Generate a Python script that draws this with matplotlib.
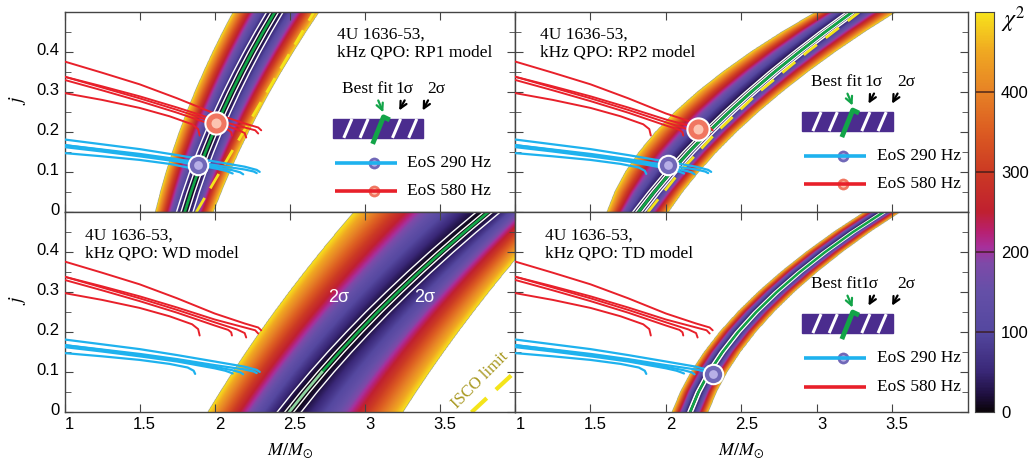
import numpy as np
import matplotlib
matplotlib.use('Agg')
import matplotlib.pyplot as plt
from matplotlib.colors import LinearSegmentedColormap
from matplotlib.patches import Rectangle
import matplotlib.transforms as mtransforms

plt.rcParams['mathtext.fontset'] = 'stix'
plt.rcParams['font.family'] = ['Liberation Sans', 'DejaVu Sans']
SERIF = ['Liberation Serif', 'DejaVu Serif']

# ---------------- data ----------------
j_pts = [0.00, 0.05, 0.10, 0.15, 0.20, 0.25, 0.30, 0.35, 0.40, 0.45, 0.50]

# RP1 model: best fit and outer (chi2 = 500) edges, M/Msun
rp1_best  = [1.800, 1.842, 1.888, 1.938, 1.992, 2.050, 2.112, 2.178, 2.248, 2.322, 2.400]
rp1_left  = [1.600, 1.634, 1.672, 1.714, 1.760, 1.810, 1.864, 1.922, 1.984, 2.050, 2.120]
rp1_right = [1.987, 2.040, 2.096, 2.157, 2.222, 2.291, 2.363, 2.440, 2.521, 2.605, 2.694]
# RP2 model
rp2_best  = [1.818, 1.921, 2.032, 2.151, 2.280, 2.417, 2.563, 2.717, 2.881, 3.052, 3.233]
rp2_left  = [1.608, 1.660, 1.731, 1.822, 1.932, 2.061, 2.210, 2.379, 2.566, 2.773, 3.000]
rp2_right = [2.017, 2.111, 2.218, 2.337, 2.469, 2.614, 2.772, 2.942, 3.125, 3.321, 3.531]
# WD model
wd_best  = [2.495, 2.601, 2.713, 2.831, 2.955, 3.084, 3.220, 3.361, 3.508, 3.661, 3.820]
wd_left  = [1.950, 2.032, 2.117, 2.206, 2.298, 2.394, 2.493, 2.596, 2.702, 2.812, 2.925]
wd_right = [3.250, 3.337, 3.427, 3.521, 3.618, 3.719, 3.823, 3.931, 4.042, 4.157, 4.275]
# TD model
td_best  = [2.160, 2.215, 2.286, 2.374, 2.477, 2.597, 2.733, 2.885, 3.053, 3.237, 3.440]
td_left  = [2.040, 2.095, 2.166, 2.254, 2.357, 2.477, 2.613, 2.765, 2.933, 3.117, 3.320]
td_right = [2.280, 2.335, 2.406, 2.494, 2.597, 2.717, 2.853, 3.005, 3.173, 3.357, 3.560]

# sigma-contour offsets from the best fit (M/Msun): 1 sigma, 2 sigma
rp1_sig = [0.025, 0.055]
rp2_sig = [0.020, 0.040]
wd_sig  = [0.030, 0.080]
td_sig  = [0.015, 0.022]

# yellow dashed lines
rp1_dash_j = [0.0, 0.5]
rp1_dash_M = [1.877, 2.660]
rp2_dash_j = [0.0, 0.1, 0.2, 0.3, 0.4, 0.5]
rp2_dash_M = [1.880, 2.090, 2.335, 2.615, 2.935, 3.280]
isco_j = [0.0, 0.0975]
isco_M = [3.710, 3.990]

# EoS sequences, 580 Hz (red)
red_M = [
    [1.00, 1.25, 1.50, 1.75, 2.00, 2.20, 2.29, 2.31],
    [1.00, 1.25, 1.50, 1.75, 2.00, 2.20, 2.27, 2.29],
    [1.00, 1.25, 1.50, 1.75, 2.00, 2.15, 2.20, 2.21],
    [1.00, 1.25, 1.50, 1.75, 2.00, 2.09, 2.11, 2.115],
    [1.00, 1.25, 1.50, 1.70, 1.85, 1.89, 1.90],
]
red_j = [
    [0.377, 0.349, 0.320, 0.285, 0.247, 0.222, 0.212, 0.205],
    [0.339, 0.315, 0.290, 0.262, 0.232, 0.212, 0.205, 0.197],
    [0.339, 0.312, 0.285, 0.256, 0.225, 0.207, 0.198, 0.187],
    [0.331, 0.305, 0.278, 0.249, 0.217, 0.206, 0.200, 0.192],
    [0.298, 0.281, 0.261, 0.240, 0.220, 0.208, 0.192],
]
# EoS sequences, 290 Hz (blue)
blue_M = [
    [1.00, 1.25, 1.50, 1.75, 2.00, 2.20, 2.28, 2.30],
    [1.00, 1.25, 1.50, 1.75, 2.00, 2.20, 2.26, 2.28],
    [1.00, 1.25, 1.50, 1.75, 2.00, 2.12, 2.17, 2.19],
    [1.00, 1.25, 1.50, 1.75, 2.00, 2.07, 2.10, 2.12],
    [1.00, 1.25, 1.50, 1.70, 1.82, 1.86, 1.87],
]
blue_j = [
    [0.182, 0.170, 0.158, 0.143, 0.127, 0.114, 0.106, 0.101],
    [0.168, 0.157, 0.146, 0.133, 0.118, 0.107, 0.102, 0.098],
    [0.168, 0.156, 0.143, 0.130, 0.114, 0.105, 0.100, 0.095],
    [0.163, 0.152, 0.140, 0.127, 0.110, 0.104, 0.100, 0.097],
    [0.148, 0.140, 0.131, 0.121, 0.112, 0.104, 0.096],
]

# intersection markers (M, j)
rp1_blue_pt = (1.892, 0.117)
rp1_red_pt = (2.009, 0.2225)
rp2_blue_pt = (2.017, 0.117)
rp2_red_pt = (2.211, 0.2075)
td_blue_pt = (2.309, 0.096)

x_ticks = [1, 1.5, 2, 2.5, 3, 3.5]
x_labels = ['1', '1.5', '2', '2.5', '3', '3.5']
y_ticks = [0, 0.1, 0.2, 0.3, 0.4]
y_labels = ['0', '0.1', '0.2', '0.3', '0.4']
cb_ticks = [0, 100, 200, 300, 400]

# ---------------- colours ----------------
cm_vals = [0, 20, 50, 100, 150, 185, 205, 225, 250, 300, 350, 400, 450, 500]
cm_cols = ['#0c060c', '#1f1040', '#3a2878', '#5548a0', '#6550a8', '#7e4aa8',
           '#a8309c', '#b82070', '#c02030', '#cc3a24', '#dc5c22', '#e78226',
           '#f0a822', '#f8e41c']
cmap = LinearSegmentedColormap.from_list(
    'chi', list(zip([v / 500 for v in cm_vals], cm_cols)))
RED = '#e8202a'
BLUE = '#1eb2ee'
GREEN = '#12a448'
YEL = '#f4e41a'

# ---------------- figure ----------------
W, H = 1032, 465
fig = plt.figure(figsize=(W / 100, H / 100), dpi=100)


def fax(x0, y0, x1, y1):
    return fig.add_axes([x0 / W, 1 - y1 / H, (x1 - x0) / W, (y1 - y0) / H])


ax_rp1 = fax(64.5, 12.3, 515, 212.3)
ax_rp2 = fax(515, 12.3, 967.7, 212.3)
ax_wd = fax(64.5, 212.3, 515, 412.3)
ax_td = fax(515, 212.3, 967.7, 412.3)
cax = fax(975, 12.3, 994, 412.3)

Mg = np.linspace(1, 4, 1100)
Jg = np.linspace(0, 0.5, 420)
MM, JJ = np.meshgrid(Mg, Jg)


def band(ax, best, left, right, p=1.4):
    c = np.interp(JJ, j_pts, best)
    l = np.interp(JJ, j_pts, left)
    r = np.interp(JJ, j_pts, right)
    d = MM - c
    D = np.where(d < 0, c - l, r - c)
    chi = 500 * (np.abs(d) / D) ** p
    chi = np.ma.masked_where(chi > 500, chi)
    ax.imshow(chi, extent=[1, 4, 0, 0.5], origin='lower', aspect='auto',
              cmap=cmap, vmin=0, vmax=500, interpolation='bilinear', zorder=0)


def sig_lines(ax, best, sig, lw=1.0):
    b = np.array(best)
    for s in sig:
        for sgn in (-1, 1):
            ax.plot(b + sgn * s, j_pts, color='white', lw=lw, zorder=2)


def eos(ax):
    for Ms, js in zip(red_M, red_j):
        ax.plot(Ms, js, color=RED, lw=1.4, zorder=3, solid_capstyle='round')
    for Ms, js in zip(blue_M, blue_j):
        ax.plot(Ms, js, color=BLUE, lw=1.6, zorder=3, solid_capstyle='round')


def dot(ax, pt, kind, ms=14, trans=None):
    kw = {}
    if trans is not None:
        kw['transform'] = trans
    if kind == 'blue':
        face, hl = '#7068b8', '#c4bef0'
    else:
        face, hl = '#f07660', '#ffd2c0'
    ax.plot([pt[0]], [pt[1]], 'o', ms=ms, mfc=face, mec='white', mew=1.5,
            zorder=6, **kw)
    ax.plot([pt[0]], [pt[1]], 'o', ms=ms * 0.45, mfc=hl, mec='none',
            alpha=0.85, zorder=7, **kw)


def key(ax, bx, by, labels, label_x, red_dot=True):
    T = ax.transAxes
    w, h = 0.2, 0.095
    ax.add_patch(Rectangle((bx, by), w, h, transform=T, color='#4b2c8e',
                           zorder=8))
    sl = 0.09 * w
    for f in [0.12, 0.30, 0.66, 0.84]:
        ax.plot([bx + f * w, bx + f * w + sl], [by, by + h], transform=T,
                color='white', lw=2.2, zorder=9, solid_capstyle='butt')
    gx = bx + 0.47 * w
    ax.plot([gx - 0.006, gx + sl, gx + sl + 0.014],
            [by - 0.03, by + h + 0.01, by + h - 0.005], transform=T,
            color=GREEN, lw=3.5, zorder=10, solid_capstyle='butt')
    ty = by + h + 0.15
    for s, fx in zip(labels, label_x):
        ax.text(bx + fx * w, ty, s, transform=T, ha='center', va='center',
                fontsize=12.5, family=SERIF, zorder=10)
    ax.annotate('', xy=(bx + 0.57 * w, by + h + 0.02),
                xytext=(bx + 0.49 * w, by + h + 0.105),
                xycoords='axes fraction',
                arrowprops=dict(arrowstyle='->', color=GREEN, lw=1.6,
                                mutation_scale=12), zorder=10)
    for tx in [0.72, 0.98]:
        ax.annotate('', xy=(bx + tx * w, by + h + 0.03),
                    xytext=(bx + (tx + 0.09) * w, by + h + 0.105),
                    xycoords='axes fraction',
                    arrowprops=dict(arrowstyle='->', color='black', lw=1.6,
                                    mutation_scale=12), zorder=10)
    # EoS legend
    lx = bx + 0.005
    y1 = by - 0.125
    y2 = y1 - 0.142
    ax.plot([lx, lx + 0.137], [y1, y1], transform=T, color=BLUE, lw=2.6,
            zorder=9, solid_capstyle='butt')
    dot(ax, (lx + 0.085, y1), 'blue', ms=10, trans=T)
    ax.text(lx + 0.16, y1, 'EoS 290 Hz', transform=T, ha='left',
            va='center', fontsize=12.5, family=SERIF, zorder=10)
    ax.plot([lx, lx + 0.137], [y2, y2], transform=T, color=RED, lw=2.6,
            zorder=9, solid_capstyle='butt')
    if red_dot:
        dot(ax, (lx + 0.085, y2), 'red', ms=10, trans=T)
    ax.text(lx + 0.16, y2, 'EoS 580 Hz', transform=T, ha='left',
            va='center', fontsize=12.5, family=SERIF, zorder=10)


def title(ax, x, y, model):
    ax.text(x, y, '4U 1636-53,\nkHz QPO: %s model' % model,
            transform=ax.transAxes, ha='left', va='top', fontsize=12.5,
            family=SERIF, linespacing=1.15, zorder=10)


# ---- RP1 ----
band(ax_rp1, rp1_best, rp1_left, rp1_right)
sig_lines(ax_rp1, rp1_best, rp1_sig)
ax_rp1.plot(rp1_dash_M, rp1_dash_j, color=YEL, lw=2, dashes=(6, 4), zorder=2)
ax_rp1.plot(rp1_best, j_pts, color=GREEN, lw=2, zorder=2)
eos(ax_rp1)
dot(ax_rp1, rp1_blue_pt, 'blue')
dot(ax_rp1, rp1_red_pt, 'red', ms=16)
title(ax_rp1, 0.604, 0.93, 'RP1')
key(ax_rp1, 0.596, 0.372, ['Best fit', '1σ', '2σ'], [0.38, 0.79, 1.15])

# ---- RP2 ----
band(ax_rp2, rp2_best, rp2_left, rp2_right)
sig_lines(ax_rp2, rp2_best, rp2_sig)
ax_rp2.plot(rp2_dash_M, rp2_dash_j, color=YEL, lw=2, dashes=(6, 4), zorder=2)
ax_rp2.plot(rp2_best, j_pts, color=GREEN, lw=2, zorder=2)
eos(ax_rp2)
dot(ax_rp2, rp2_blue_pt, 'blue')
dot(ax_rp2, rp2_red_pt, 'red', ms=16)
title(ax_rp2, 0.055, 0.93, 'RP2')
key(ax_rp2, 0.634, 0.406, ['Best fit', '1σ', '2σ'], [0.38, 0.79, 1.15])

# ---- WD ----
band(ax_wd, wd_best, wd_left, wd_right)
sig_lines(ax_wd, wd_best, wd_sig)
ax_wd.plot(wd_best[2:], j_pts[2:], color=GREEN, lw=2, zorder=2)
ax_wd.plot(wd_best[:3], j_pts[:3], color='#8fd4a0', lw=2, zorder=2)
ax_wd.plot(isco_M, isco_j, color=YEL, lw=3, dashes=(5, 3), zorder=2)
ax_wd.text(3.77, 0.08, 'ISCO limit', rotation=45, color='#a89820',
           fontsize=12, family=SERIF, ha='center', va='center', zorder=5)
ax_wd.text(2.827, 0.286, '2σ', color='white', fontsize=13, ha='center',
           va='center', zorder=5)
ax_wd.text(3.40, 0.286, '2σ', color='white', fontsize=13, ha='center',
           va='center', zorder=5)
eos(ax_wd)
title(ax_wd, 0.045, 0.925, 'WD')

# ---- TD ----
band(ax_td, td_best, td_left, td_right)
sig_lines(ax_td, td_best, td_sig[:1], lw=1.2)
ax_td.plot(td_best, j_pts, color=GREEN, lw=1.8, zorder=2)
eos(ax_td)
dot(ax_td, td_blue_pt, 'blue')
title(ax_td, 0.066, 0.925, 'TD')
key(ax_td, 0.634, 0.396, ['Best fit', '1σ', '2σ'], [0.38, 0.74, 1.15],
    red_dot=False)

# ---- axes styling ----
for ax in [ax_rp1, ax_rp2, ax_wd, ax_td]:
    ax.set_xlim(1, 4)
    ax.set_ylim(0, 0.5)
    ax.set_xticks(x_ticks)
    ax.set_yticks(y_ticks)
    ax.set_yticks(np.arange(0.05, 0.5, 0.1), minor=True)
    ax.tick_params(which='both', direction='in', top=True, right=True,
                   color='#444444', labelsize=12)
    ax.tick_params(which='major', length=6)
    ax.tick_params(which='minor', length=4)
    for s in ax.spines.values():
        s.set_color('#444444')
        s.set_linewidth(1.0)
    ax.set_xticklabels(x_labels)
    ax.set_yticklabels(y_labels)

for ax in [ax_rp1, ax_rp2]:
    ax.tick_params(labelbottom=False)
for ax in [ax_rp2, ax_td]:
    ax.tick_params(labelleft=False)

xoff = mtransforms.ScaledTranslation(5 / 100, 0, fig.dpi_scale_trans)
yoff = mtransforms.ScaledTranslation(0, 3 / 100, fig.dpi_scale_trans)
for ax in [ax_wd, ax_td]:
    for lab in ax.get_xticklabels():
        lab.set_transform(lab.get_transform() + xoff)
    ax.text(0.5, -0.19, r'$M/M_{\odot}$', transform=ax.transAxes,
            ha='center', va='center', fontsize=13)
for ax in [ax_rp1, ax_wd]:
    for lab in ax.get_yticklabels():
        lab.set_transform(lab.get_transform() + yoff)
    ax.text(-0.105, 0.56, r'$j$', transform=ax.transAxes, rotation=90,
            ha='center', va='center', fontsize=14)

# ---- colour bar ----
grad = np.linspace(0, 500, 400).reshape(-1, 1)
cax.imshow(grad, extent=[0, 1, 0, 500], origin='lower', aspect='auto',
           cmap=cmap, vmin=0, vmax=500)
for v in [100, 200, 300, 400]:
    cax.axhline(v, color='#3a1a18', lw=1.2, alpha=0.8)
cax.set_xlim(0, 1)
cax.set_ylim(0, 500)
cax.set_xticks([])
cax.yaxis.tick_right()
cax.set_yticks(cb_ticks)
cax.set_yticklabels([str(t) for t in cb_ticks])
cax.tick_params(axis='y', length=0, pad=5, labelsize=12)
for s in cax.spines.values():
    s.set_color('#444444')
fig.text(1013 / W, 1 - 20 / H, r'$\chi^2$', fontsize=17, ha='center',
         va='center')

fig.savefig('out.png', dpi=100)
